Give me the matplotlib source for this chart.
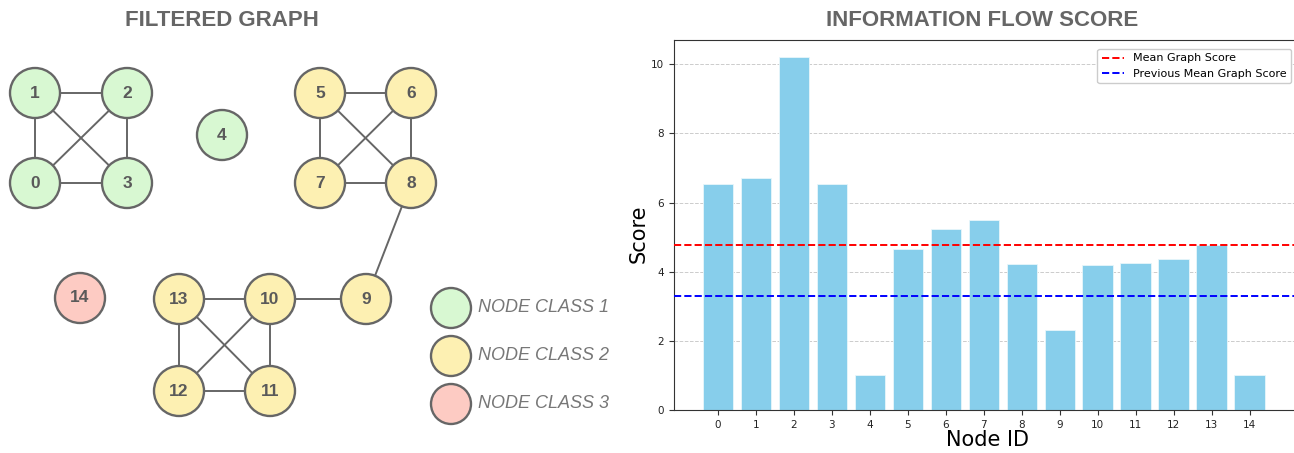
import numpy as np
import matplotlib
matplotlib.use("Agg")
import matplotlib.pyplot as plt
from matplotlib.patches import Ellipse

# graph layout (pixel positions in the left panel)
node_ids = list(range(15))
node_x = [35, 35, 127, 127, 222, 320, 411, 320, 411, 366, 270, 270, 179, 179, 80]
node_y = [183, 93, 93, 183, 135, 93, 93, 183, 183, 299, 299, 391, 391, 299, 298]
node_class = [1, 1, 1, 1, 1, 2, 2, 2, 2, 2, 2, 2, 2, 2, 3]
edges = [(0, 1), (1, 2), (2, 3), (0, 3), (1, 3), (0, 2),
         (5, 6), (5, 7), (6, 8), (7, 8), (5, 8), (6, 7),
         (8, 9), (9, 10),
         (10, 13), (13, 12), (12, 11), (10, 11), (13, 11), (10, 12)]
class_names = ["NODE CLASS 1", "NODE CLASS 2", "NODE CLASS 3"]
class_colors = {1: "#d8f8d2", 2: "#fdf0b2", 3: "#fdcbc3"}

# information flow scores
scores = [6.55, 6.72, 10.2, 6.55, 1.0, 4.67, 5.22, 5.5, 4.23, 2.32, 4.2, 4.26, 4.38, 4.76, 1.0]
prev_mean = 3.3

W, H = 1294, 453
fig = plt.figure(figsize=(W / 100, H / 100), dpi=100)

gray = "#666666"
bold_font = "Liberation Sans"

# ---- left: filtered graph ----
axg = fig.add_axes([0, 0, 620 / W, 1])
axg.set_xlim(0, 620)
axg.set_ylim(H, 0)
axg.axis("off")

for a, b in edges:
    axg.plot([node_x[a], node_x[b]], [node_y[a], node_y[b]], color=gray, lw=1.4, zorder=1)

for i in node_ids:
    axg.add_patch(Ellipse((node_x[i], node_y[i]), 50, 50, facecolor=class_colors[node_class[i]],
                          edgecolor=gray, lw=1.7, zorder=2))
    axg.text(node_x[i], node_y[i], str(i), ha="center", va="center", fontsize=12.5,
             fontweight="bold", color="#5a5a5a", family=bold_font, zorder=3)

for k, name in enumerate(class_names):
    cy = 308 + k * 48
    axg.add_patch(Ellipse((451, cy), 40, 40, facecolor=class_colors[k + 1],
                          edgecolor=gray, lw=1.7, zorder=2))
    axg.text(478, cy, name, ha="left", va="center", fontsize=13, style="italic",
             color="#777777", family=bold_font)

axg.text(222, 20, "FILTERED GRAPH", ha="center", va="center", fontsize=16,
         fontweight="bold", color=gray, family=bold_font)

# ---- right: information flow score ----
ax = fig.add_axes([674 / W, (H - 410) / H, (1300 - 674) / W, 370 / H])
ax.bar(node_ids, scores, width=0.8, color="skyblue", edgecolor="#e8f6fb", lw=0.6, zorder=2)
ax.axhline(np.mean(scores), color="red", ls="--", lw=1.4, label="Mean Graph Score", zorder=3)
ax.axhline(prev_mean, color="blue", ls="--", lw=1.4, label="Previous Mean Graph Score", zorder=3)
ax.set_xlim(-1.16, 15.33)
ax.set_ylim(0, 10.7)
ax.set_xticks(node_ids)
ax.set_yticks([0, 2, 4, 6, 8, 10])
ax.tick_params(labelsize=7.5, length=3.5, color="#333333", labelcolor="#222222")
ax.grid(axis="y", ls="--", color="#cccccc", lw=0.7, zorder=0)
for s in ax.spines.values():
    s.set_color("#333333")
ax.set_xlabel("Node ID", fontsize=15, labelpad=0)
ax.set_ylabel("Score", fontsize=15)
ax.yaxis.set_label_coords(-0.04, 0.476)
ax.legend(loc="upper right", fontsize=8, bbox_to_anchor=(1291 / W, 1 - 49 / H),
          bbox_transform=fig.transFigure, borderaxespad=0, framealpha=1)

fig.text(982 / W, 1 - 20 / H, "INFORMATION FLOW SCORE", ha="center", va="center", fontsize=16,
         fontweight="bold", color=gray, family=bold_font)

fig.savefig("out.png", dpi=100)
